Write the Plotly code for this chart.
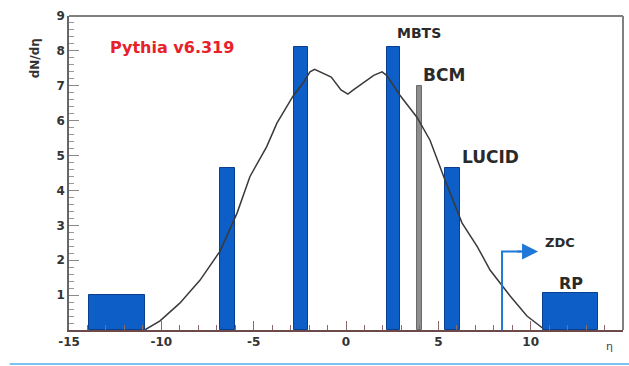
import plotly.graph_objects as go

# ---- data ----
curve_eta = [-10.9, -10.07, -9.0, -7.9, -6.82, -5.9, -5.2, -4.3, -3.74, -2.87, -2.3, -1.95, -1.7,
             -1.2, -0.8, -0.27, 0.1, 0.4, 0.95, 1.5, 1.95, 2.2, 2.92, 3.84, 4.55, 5.36, 6.28,
             7.1, 7.8, 8.9, 9.8, 10.66]
curve_dndeta = [0.0, 0.26, 0.77, 1.43, 2.26, 3.35, 4.4, 5.25, 5.93, 6.7, 7.1, 7.4, 7.47,
                7.35, 7.25, 6.88, 6.76, 6.88, 7.1, 7.3, 7.4, 7.3, 6.73, 6.1, 5.44, 4.3, 3.07,
                2.4, 1.72, 0.97, 0.4, 0.05]

det_lo = [-13.9, -6.8, -2.8, 2.2, 5.35, 10.65]
det_hi = [-10.9, -6.0, -2.05, 2.95, 6.15, 13.65]
det_h = [1.0, 4.65, 8.1, 8.1, 4.65, 1.05]

bcm_lo, bcm_hi, bcm_h = [3.85], [4.12], [7.0]

zdc_eta, zdc_h, zdc_tip = 8.45, 2.25, 10.4

labels = ["MBTS", "BCM", "LUCID", "ZDC", "RP"]
label_x = [3.95, 5.3, 7.8, 11.6, 12.2]
label_y = [8.5, 7.3, 4.96, 2.52, 1.32]
label_size = [14, 17, 17, 13, 16]

xticks = [-15, -10, -5, 0, 5, 10, 15]
xtick_text = ["-15", "-10", "-5", "0", "5", "10", "15"]
yticks = [1, 2, 3, 4, 5, 6, 7, 8, 9]

fig = go.Figure()

fig.add_trace(go.Scatter(x=curve_eta, y=curve_dndeta, mode="lines",
                         line=dict(color="#3a3a3a", width=1.5), hoverinfo="skip"))

fig.add_trace(go.Bar(x=[(a + b) / 2 for a, b in zip(det_lo, det_hi)],
                     y=det_h, width=[b - a for a, b in zip(det_lo, det_hi)],
                     marker=dict(color="#0d5ec6", line=dict(color="#0a3f8f", width=1))))
fig.add_trace(go.Bar(x=[(a + b) / 2 for a, b in zip(bcm_lo, bcm_hi)],
                     y=bcm_h, width=[b - a for a, b in zip(bcm_lo, bcm_hi)],
                     marker=dict(color="#8e8e8e", line=dict(color="#6a6a6a", width=1))))

# ZDC arrow
fig.add_trace(go.Scatter(x=[zdc_eta, zdc_eta, zdc_tip - 0.9], y=[0, zdc_h, zdc_h], mode="lines",
                         line=dict(color="#1f78d8", width=2), hoverinfo="skip"))
fig.add_annotation(x=zdc_tip, y=zdc_h, ax=zdc_tip - 1.2, ay=zdc_h, xref="x", yref="y",
                   axref="x", ayref="y", text="", showarrow=True, arrowhead=2,
                   arrowsize=1.6, arrowwidth=2, arrowcolor="#1f78d8")

fig.add_annotation(x=-9.4, y=8.1, text="Pythia v6.319", showarrow=False,
                   font=dict(family="DejaVu Sans", size=16, color="#e8202a", weight="bold"))
for t, x, y, s in zip(labels, label_x, label_y, label_size):
    fig.add_annotation(x=x, y=y, text=t, showarrow=False,
                       font=dict(family="DejaVu Sans", size=s, color="#2a2a2a", weight="bold"))

fig.add_annotation(xref="paper", yref="paper", x=-0.076, y=0.935, text="dN/dη", textangle=-90,
                   showarrow=False, font=dict(family="DejaVu Sans", size=12, color="#333", weight="bold"))
fig.add_annotation(xref="paper", yref="paper", x=0.985, y=-0.08, text="η",
                   showarrow=False, font=dict(family="DejaVu Sans", size=11, color="#444"))

# frame: top and right in grey, and the light-blue rule below the chart
fig.add_shape(type="line", xref="paper", yref="paper", x0=0, x1=1, y0=1, y1=1,
              line=dict(color="#808080", width=2), layer="above")
fig.add_shape(type="line", xref="paper", yref="paper", x0=1, x1=1, y0=0, y1=1,
              line=dict(color="#808080", width=2), layer="above")
fig.add_shape(type="line", xref="paper", yref="paper", x0=-0.107, x1=1.02, y0=-0.108, y1=-0.108,
              line=dict(color="#7cc3ee", width=2))

fig.update_layout(
    width=629, height=366, margin=dict(l=69, r=6, t=16, b=36),
    plot_bgcolor="white", paper_bgcolor="white", showlegend=False, bargap=0,
    barmode="overlay",
    xaxis=dict(range=[-15, 15], tickvals=xticks, ticktext=xtick_text, ticks="inside", ticklen=9,
               tickcolor="#8a6a6a",
               showline=True, linecolor="#6a4a4a", linewidth=1.5, showgrid=False, zeroline=False,
               tickfont=dict(family="DejaVu Sans", size=12, color="#333", weight="bold"),
               minor=dict(dtick=1, ticks="inside", ticklen=5, tickcolor="#8a6a6a")),
    yaxis=dict(range=[0, 9], tickvals=yticks, ticks="inside", ticklen=10, tickcolor="#888",
               showline=True, linecolor="#666", linewidth=1.5, showgrid=False, zeroline=False,
               tickfont=dict(family="DejaVu Sans", size=12, color="#333", weight="bold"),
               minor=dict(dtick=0.2, ticks="inside", ticklen=5, tickcolor="#999")),
)

page_js = ("document.documentElement.style.overflow='hidden';"
           "document.body.style.margin='0';document.body.style.overflow='hidden';")
fig.write_html("out.html", post_script=page_js, config={"displayModeBar": False})
